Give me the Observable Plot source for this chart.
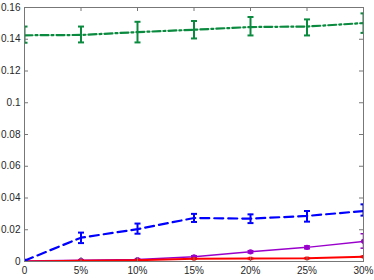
<!DOCTYPE html>
<html><head><meta charset="utf-8">
<script src="https://cdn.jsdelivr.net/npm/d3@7"></script>
<script src="https://cdn.jsdelivr.net/npm/@observablehq/plot@0.6"></script>
<style>body{margin:0;background:#fff}</style>
</head><body><div id="chart"></div>
<script>
const xVals = [0, 5, 10, 15, 20, 25, 30];
const xTickLabels = ["0", "5%", "10%", "15%", "20%", "25%", "30%"];
const yTicks = [0, 0.02, 0.04, 0.06, 0.08, 0.1, 0.12, 0.14, 0.16];
const yTickLabels = ["0", "0.02", "0.04", "0.06", "0.08", "0.1", "0.12", "0.14", "0.16"];

const greenMean = [0.1425, 0.1427, 0.1445, 0.146, 0.1477, 0.148, 0.1502];
const greenLow  = [0.1378, 0.1380, 0.1380, 0.1405, 0.1424, 0.1424, 0.1440];
const greenHigh = [0.1480, 0.1480, 0.1510, 0.1515, 0.1540, 0.1525, 0.1563];

const blueMean = [0.0005, 0.0150, 0.0204, 0.0274, 0.0270, 0.0287, 0.0318];
const blueLow  = [0.0000, 0.0116, 0.0175, 0.0249, 0.0242, 0.0251, 0.0289];
const blueHigh = [0.0010, 0.0182, 0.0239, 0.0300, 0.0297, 0.0318, 0.0360];

const purpleMean = [0.0003, 0.0008, 0.0012, 0.0030, 0.0061, 0.0089, 0.0127];
const purpleLow  = [0.0001, 0.0005, 0.0008, 0.0024, 0.0054, 0.0080, 0.0084];
const purpleHigh = [0.0005, 0.0011, 0.0016, 0.0036, 0.0068, 0.0098, 0.0175];

const redMean = [0.0000, 0.0005, 0.0008, 0.0017, 0.0019, 0.0020, 0.0030];
const redLow  = [0.0000, 0.0004, 0.0007, 0.0015, 0.0017, 0.0018, 0.0027];
const redHigh = [0.0001, 0.0006, 0.0009, 0.0019, 0.0021, 0.0022, 0.0033];

const mk = (m, lo, hi) => xVals.map((x, i) => ({x, y: m[i], lo: lo[i], hi: hi[i]}));
const green = mk(greenMean, greenLow, greenHigh);
const blue = mk(blueMean, blueLow, blueHigh);
const purple = mk(purpleMean, purpleLow, purpleHigh);
const red = mk(redMean, redLow, redHigh);

const W = 374, H = 280, mL = 24, mR = 11, mT = 7, mB = 19;
const fw = W - mL - mR, fh = H - mT - mB;
const capSym = {draw(ctx, size) { const r = Math.sqrt(size / Math.PI); ctx.moveTo(-r, 0); ctx.lineTo(r, 0); }};
const axisCol = "#777";

function errMarks(data, color, sw) {
  return [
    Plot.ruleX(data, {x: "x", y1: "lo", y2: "hi", stroke: color, strokeWidth: sw, clip: true}),
    Plot.dot(data, {x: "x", y: "lo", symbol: capSym, r: 3, stroke: color, strokeWidth: sw, fill: "none", clip: true}),
    Plot.dot(data, {x: "x", y: "hi", symbol: capSym, r: 3, stroke: color, strokeWidth: sw, fill: "none", clip: true})
  ];
}

const chart = Plot.plot({
  width: W, height: H,
  marginLeft: mL, marginRight: mR, marginTop: mT, marginBottom: mB,
  style: {fontFamily: "'Liberation Sans', Arial, sans-serif", fontSize: "10px", color: "#262626", background: "#fff"},
  x: {domain: [0, 30], label: null},
  y: {domain: [0, 0.16], label: null},
  marks: [
    Plot.line(purple, {x: "x", y: "y", stroke: "#9a00cc", strokeWidth: 1.5, clip: true}),
    ...errMarks(purple, "#9a00cc", 1.5),
    Plot.dot(purple, {x: "x", y: "y", r: 2.6, fill: "#9a00cc", symbol: "circle", clip: true}),
    Plot.line(red, {x: "x", y: "y", stroke: "#ff0000", strokeWidth: 2, clip: true}),
    ...errMarks(red, "#ff0000", 1.5),
    Plot.dot(red, {x: "x", y: "y", r: 2, fill: "#ff0000", symbol: "square", clip: true}),
    Plot.line(blue, {x: "x", y: "y", stroke: "#0000ff", strokeWidth: 2.2, strokeDasharray: "9,5", clip: true}),
    ...errMarks(blue, "#0000ff", 2),
    Plot.line(green, {x: "x", y: "y", stroke: "#0a8a3e", strokeWidth: 2.2, strokeDasharray: "8,3,2,3", clip: true}),
    ...errMarks(green, "#0a8a3e", 2),
    Plot.tickX(xVals, {x: d => d, stroke: axisCol, insetTop: fh - 4}),
    Plot.tickX(xVals, {x: d => d, stroke: axisCol, insetBottom: fh - 4}),
    Plot.tickY(yTicks, {y: d => d, stroke: axisCol, insetRight: fw - 4}),
    Plot.tickY(yTicks, {y: d => d, stroke: axisCol, insetLeft: fw - 4}),
    Plot.frame({stroke: axisCol}),
    Plot.axisX(xVals, {tickSize: 0, tickPadding: 5, label: null, tickFormat: d => xTickLabels[xVals.indexOf(d)], fill: "#262626"}),
    Plot.axisY(yTicks, {tickSize: 0, tickPadding: 4, label: null, tickFormat: d => yTickLabels[yTicks.indexOf(d)], fill: "#262626"})
  ]
});
document.getElementById("chart").appendChild(chart);
</script>
</body></html>
